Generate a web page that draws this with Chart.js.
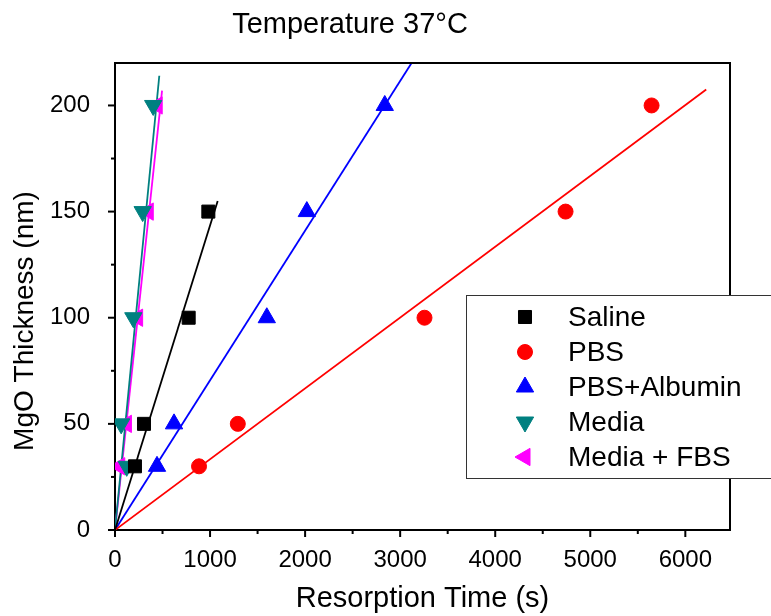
<!DOCTYPE html>
<html>
<head>
<meta charset="utf-8">
<title>Temperature 37°C</title>
<script src="https://cdn.jsdelivr.net/npm/chart.js@4.4.1/dist/chart.umd.min.js"></script>
<style>
    body { margin: 0; background: #fff; }
    #wrap { width: 771px; height: 616px; }
</style>
</head>
<body>
<div id="wrap"><canvas id="resorption" width="771" height="616"></canvas></div>
<script>
// MgO thickness (nm) against resorption time (s)
let thickness = [30, 50, 100, 150, 200];
let salineThickness = [30, 50, 100, 150];

let salineTime = [210, 305, 775, 982];
let pbsTime = [884, 1292, 3256, 4740, 5645];
let albuminTime = [442, 621, 1597, 2018, 2838];
let mediaTime = [123, 65, 193, 291, 402];
let mediaFbsTime = [50, 120, 238, 350, 444];

// linear fits, end points
let salineFitX = [0, 1080];
let salineFitY = [0, 155];
let pbsFitX = [0, 6220];
let pbsFitY = [0, 207.5];
let albuminFitX = [0, 3120];
let albuminFitY = [0, 220];
let mediaFitX = [0, 466];
let mediaFitY = [0, 214];
let mediaFbsFitX = [0, 495];
let mediaFbsFitY = [0, 207];

// labelled ticks and the short unlabelled ones between them
let xTicks = [0, 1000, 2000, 3000, 4000, 5000, 6000];
let xMinorTicks = [500, 1500, 2500, 3500, 4500, 5500];
let yTicks = [0, 50, 100, 150, 200];
let yMinorTicks = [25, 75, 125, 175];

let seriesNames = ["Saline", "PBS", "PBS+Albumin", "Media", "Media + FBS"];
let seriesColors = ["#000000", "#ff0000", "#0000ff", "#008080", "#ff00ff"];
let seriesStyles = ["rect", "circle", "triangle", "triangle", "triangle"];
let seriesRotation = [0, 0, 0, 180, 270];
let seriesRadius = [9.2, 7.5, 10, 10, 10];

const FONT = "'Liberation Sans', Arial, sans-serif";

function toPoints(xs, ys) {
    return xs.map((x, i) => ({ x: x, y: ys[i] }));
}

function tickList(major, minor) {
    return major.concat(minor).sort((a, b) => a - b).map((v) => ({ value: v }));
}

function markerSet(i, xs, ys) {
    return {
        label: seriesNames[i],
        data: toPoints(xs, ys),
        showLine: false,
        pointStyle: seriesStyles[i],
        rotation: seriesRotation[i],
        pointRadius: seriesRadius[i],
        backgroundColor: seriesColors[i],
        borderColor: seriesColors[i],
        pointBorderWidth: 1,
        order: 0
    };
}

function fitSet(i, xs, ys) {
    return {
        label: seriesNames[i] + " fit",
        type: "line",
        data: toPoints(xs, ys),
        borderColor: seriesColors[i],
        borderWidth: 1.8,
        pointRadius: 0,
        fill: false,
        order: 1
    };
}

function drawMarker(ctx, i, x, y) {
    ctx.save();
    ctx.fillStyle = seriesColors[i];
    ctx.strokeStyle = seriesColors[i];
    ctx.lineWidth = 1;
    Chart.helpers.drawPoint(ctx, {
        pointStyle: seriesStyles[i],
        rotation: seriesRotation[i],
        radius: seriesRadius[i],
        borderWidth: 1
    }, x, y);
    ctx.restore();
}

let decorations = {
    id: "decorations",
    afterDraw(chart) {
        let ctx = chart.ctx;
        let area = chart.chartArea;
        let xScale = chart.scales.x;
        let yScale = chart.scales.y;

        ctx.save();
        ctx.strokeStyle = "#000";
        ctx.lineWidth = 2;

        // top and right frame
        ctx.beginPath();
        ctx.moveTo(area.left, area.top);
        ctx.lineTo(area.right, area.top);
        ctx.lineTo(area.right, area.bottom);
        ctx.stroke();

        // outward ticks, short ones between labels
        xScale.ticks.forEach((t) => {
            let px = xScale.getPixelForValue(t.value);
            let len = xTicks.includes(t.value) ? 7 : 4;
            ctx.beginPath();
            ctx.moveTo(px, area.bottom);
            ctx.lineTo(px, area.bottom + len);
            ctx.stroke();
        });
        yScale.ticks.forEach((t) => {
            let py = yScale.getPixelForValue(t.value);
            let len = yTicks.includes(t.value) ? 7 : 4;
            ctx.beginPath();
            ctx.moveTo(area.left, py);
            ctx.lineTo(area.left - len, py);
            ctx.stroke();
        });

        // legend box, runs off the right edge like the original
        ctx.fillStyle = "#fff";
        ctx.fillRect(466, 295, 340, 183);
        ctx.lineWidth = 1;
        ctx.strokeStyle = "#333";
        ctx.strokeRect(466.5, 295.5, 340, 183);

        ctx.font = "28px " + FONT;
        ctx.textAlign = "left";
        ctx.textBaseline = "middle";
        seriesNames.forEach((name, i) => {
            let rowY = 317 + i * 35;
            drawMarker(ctx, i, 525, rowY);
            ctx.fillStyle = "#000";
            ctx.fillText(name, 568, rowY + 1);
        });

        // chart title
        ctx.fillStyle = "#000";
        ctx.font = "29px " + FONT;
        ctx.textAlign = "center";
        ctx.fillText("Temperature 37°C", 350, 25);

        // y axis title
        ctx.translate(25, 321);
        ctx.rotate(-Math.PI / 2);
        ctx.font = "28px " + FONT;
        ctx.fillText("MgO Thickness (nm)", 0, 0);
        ctx.restore();
    }
};

let ctx = document.getElementById("resorption").getContext("2d");

let chartResorption = new Chart(ctx, {
    type: "scatter",
    data: {
        datasets: [
            markerSet(0, salineTime, salineThickness),
            markerSet(1, pbsTime, thickness),
            markerSet(2, albuminTime, thickness),
            markerSet(3, mediaTime, thickness),
            markerSet(4, mediaFbsTime, thickness),
            fitSet(0, salineFitX, salineFitY),
            fitSet(1, pbsFitX, pbsFitY),
            fitSet(2, albuminFitX, albuminFitY),
            fitSet(3, mediaFitX, mediaFitY),
            fitSet(4, mediaFbsFitX, mediaFbsFitY)
        ]
    },
    options: {
        responsive: false,
        animation: false,
        devicePixelRatio: 1,
        layout: {
            padding: { top: 63, right: 41, bottom: 0, left: 0 }
        },
        plugins: {
            legend: { display: false },
            tooltip: { enabled: false }
        },
        scales: {
            x: {
                type: "linear",
                min: 0,
                max: 6470,
                afterBuildTicks: (scale) => { scale.ticks = tickList(xTicks, xMinorTicks); },
                afterFit: (scale) => { scale.height = 86; },
                grid: { display: false },
                border: { display: true, color: "#000", width: 2 },
                ticks: {
                    autoSkip: false,
                    maxRotation: 0,
                    padding: 8,
                    color: "#000",
                    font: { family: FONT, size: 24 },
                    callback: (value) => xTicks.includes(value) ? String(value) : ""
                },
                title: {
                    display: true,
                    text: "Resorption Time (s)",
                    color: "#000",
                    font: { family: FONT, size: 29 },
                    padding: { top: 0, bottom: 0 }
                }
            },
            y: {
                type: "linear",
                min: 0,
                max: 220,
                afterBuildTicks: (scale) => { scale.ticks = tickList(yTicks, yMinorTicks); },
                afterFit: (scale) => { scale.width = 115; },
                grid: { display: false },
                border: { display: true, color: "#000", width: 2 },
                ticks: {
                    autoSkip: false,
                    padding: 17,
                    color: "#000",
                    font: { family: FONT, size: 24 },
                    callback: (value) => yTicks.includes(value) ? String(value) : ""
                }
            }
        }
    },
    plugins: [decorations]
});
</script>
</body>
</html>
